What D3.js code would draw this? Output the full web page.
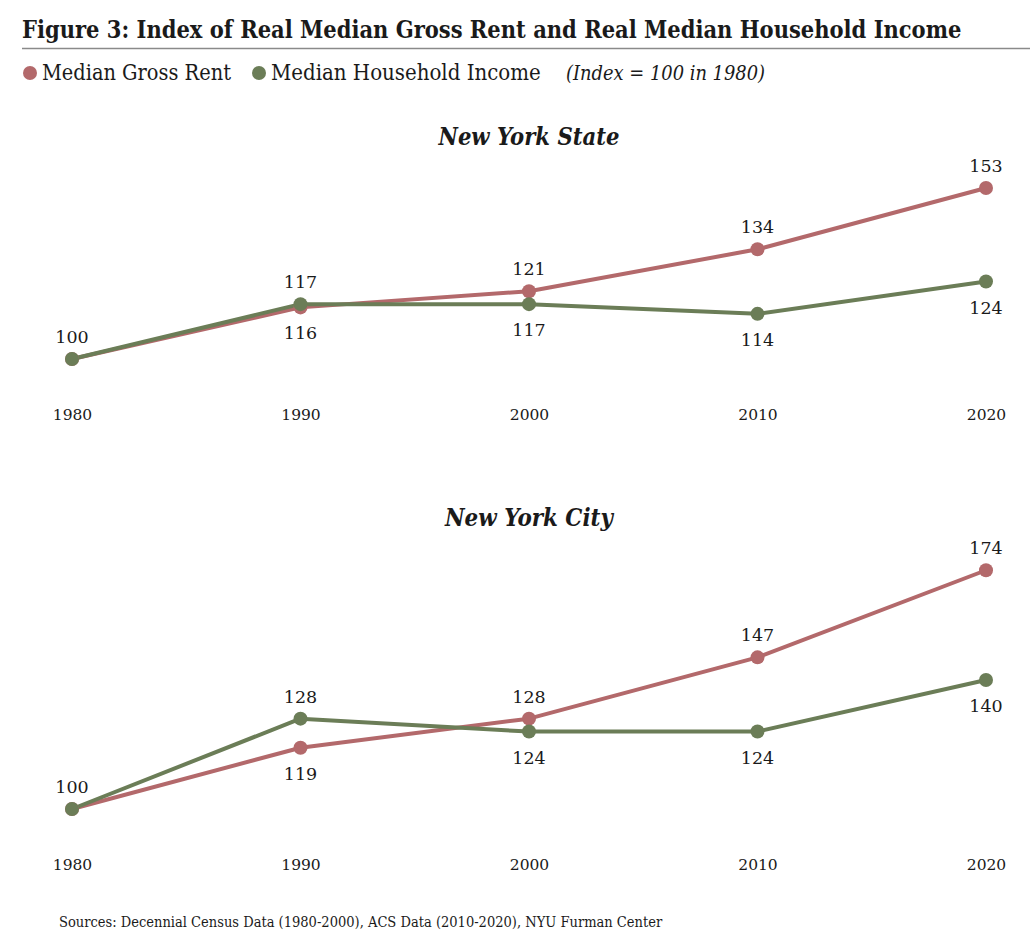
<!DOCTYPE html>
<html>
<head>
<meta charset="utf-8">
<script src="https://cdn.jsdelivr.net/npm/d3@7"></script>
<style>
  body { margin: 0; background: #fff; }
  svg { display: block; }
  text { font-family: "DejaVu Serif", "Liberation Serif", serif; fill: #1a1a1a; }
  .cond { font-family: "DejaVu Serif Condensed", "DejaVu Serif", serif; }
</style>
</head>
<body>
<div id="chart"></div>
<script>
// data
const years = [1980, 1990, 2000, 2010, 2020];
const panels = ["New York State", "New York City"];
const rentState = [100, 116, 121, 134, 153];
const incomeState = [100, 117, 117, 114, 124];
const rentCity = [100, 119, 128, 147, 174];
const incomeCity = [100, 128, 124, 124, 140];
const seriesNames = ["Median Gross Rent", "Median Household Income"];

const W = 1030, H = 950;
const RENT = "#b3696b";
const INCOME = "#6b7d57";
const PANEL_TOP = [0, 450];
const PANEL_TITLE_Y = [145, 526];

const svg = d3.select("#chart").append("svg")
	.attr("width", W)
	.attr("height", H);

// shrink/grow font so text spans the wanted width
function fit(sel, width) {
	var fs = parseFloat(sel.style("font-size"));
	var w = sel.node().getComputedTextLength();
	sel.style("font-size", (fs * width / w).toFixed(2) + "px");
	return sel;
}

// title + rule
fit(svg.append("text")
	.attr("class", "cond")
	.attr("x", 22).attr("y", 38)
	.style("font-size", "24px")
	.style("font-weight", "bold")
	.text("Figure 3: Index of Real Median Gross Rent and Real Median Household Income"), 940);
svg.append("line")
	.attr("x1", 22).attr("x2", W)
	.attr("y1", 48.5).attr("y2", 48.5)
	.attr("stroke", "#8a8a8a").attr("stroke-width", 1.5);

// legend
var lx = [30, 259], lw = [189, 270];
[RENT, INCOME].forEach(function(c, k) {
	svg.append("circle").attr("cx", lx[k]).attr("cy", 73).attr("r", 7).attr("fill", c);
	fit(svg.append("text")
		.attr("class", "cond")
		.attr("x", lx[k] + 12).attr("y", 80)
		.style("font-size", "20px")
		.text(seriesNames[k]), lw[k]);
});
fit(svg.append("text")
	.attr("class", "cond")
	.attr("x", 566).attr("y", 80)
	.style("font-size", "20px")
	.style("font-style", "italic")
	.text("(Index = 100 in 1980)"), 199);

const x = d3.scalePoint().domain(years).range([72, 986]);
// 100 sits at y=359 in the first panel, ~3.23 px per index point
const y = d3.scaleLinear().domain([100, 153]).range([359, 188]);

const data = [
	{ rent: rentState, income: incomeState },
	{ rent: rentCity, income: incomeCity }
];

data.forEach(function(p, pi) {
	svg.append("text")
		.attr("x", 529).attr("y", PANEL_TITLE_Y[pi])
		.attr("text-anchor", "middle")
		.style("font-size", "22px")
		.style("font-weight", "bold")
		.style("font-style", "italic")
		.attr("class", "cond")
		.text(panels[pi])
		.call(function(s) { fit(s, pi == 0 ? 181 : 168); });

	var g = svg.append("g").attr("transform", "translate(0," + PANEL_TOP[pi] + ")");

	// year labels
	var xAxis = d3.axisBottom(x).tickSize(0).tickPadding(0);
	var ax = g.append("g").attr("transform", "translate(0,409)").call(xAxis);
	ax.select(".domain").remove();
	ax.selectAll("text")
		.style("font-family", "DejaVu Serif, serif")
		.style("font-size", "15.5px")
		.attr("fill", "#1a1a1a");

	var line = d3.line()
		.x(function(d, i) { return x(years[i]); })
		.y(function(d) { return y(d); });

	var series = [
		{ key: "rent", vals: p.rent, other: p.income, color: RENT },
		{ key: "income", vals: p.income, other: p.rent, color: INCOME }
	];

	series.forEach(function(s) {
		g.append("path")
			.datum(s.vals)
			.attr("d", line)
			.attr("fill", "none")
			.attr("stroke", s.color)
			.attr("stroke-width", 4)
			.attr("stroke-linejoin", "round");
	});
	series.forEach(function(s) {
		g.selectAll(".dot-" + s.key)
			.data(s.vals)
			.enter().append("circle")
			.attr("cx", function(d, i) { return x(years[i]); })
			.attr("cy", function(d) { return y(d); })
			.attr("r", 7)
			.attr("fill", s.color);
	});

	// value labels: higher series gets label above, lower below; ties only once
	series.forEach(function(s) {
		var labs = s.vals.map(function(v, i) {
			return { v: v, i: i, above: v >= s.other[i] };
		}).filter(function(d) {
			return !(s.key == "income" && d.v == s.other[d.i]);
		});
		g.selectAll(".lab-" + s.key)
			.data(labs)
			.enter().append("text")
			.attr("x", function(d) { return x(years[d.i]); })
			.attr("y", function(d) { return d.above ? y(d.v) - 16 : y(d.v) + 32; })
			.attr("text-anchor", "middle")
			.style("font-size", "17.5px")
			.text(function(d) { return d.v; });
	});
});

fit(svg.append("text")
	.attr("class", "cond")
	.attr("x", 59).attr("y", 927)
	.style("font-size", "14px")
	.text("Sources: Decennial Census Data (1980-2000), ACS Data (2010-2020), NYU Furman Center"), 604);
</script>
</body>
</html>
